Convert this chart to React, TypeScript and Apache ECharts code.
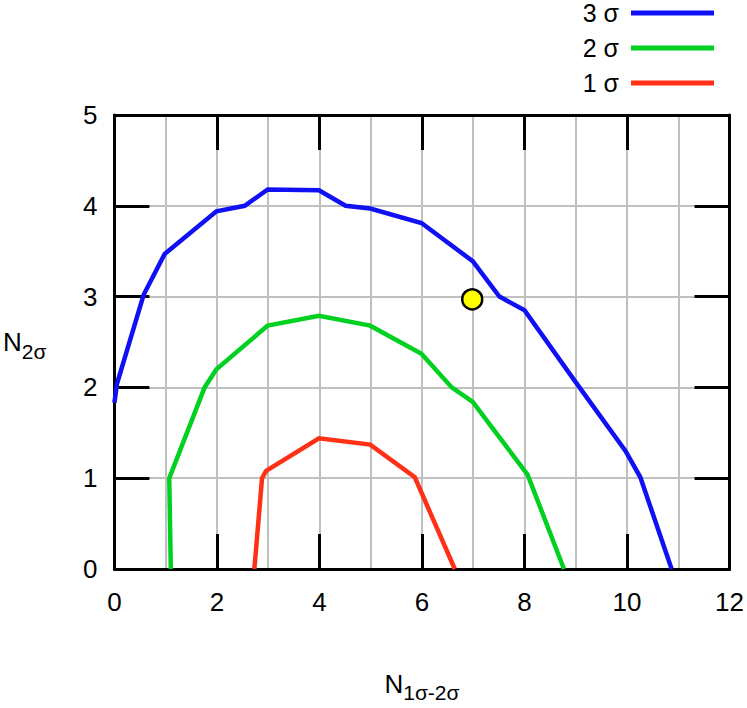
import React, { useEffect, useRef } from "react";
import * as echarts from "echarts";

const FONT = "'Liberation Sans', Arial, sans-serif";

// 3 sigma contour (blue)
const sigma3X = [0, 0.05, 0.57, 0.98, 1.99, 2.54, 2.99, 3.99, 4.51, 4.99, 5.99, 6.99, 7.51, 8.0, 8.97, 9.97, 10.26, 10.87];
const sigma3Y = [1.83, 2.04, 3.02, 3.47, 3.94, 4.0, 4.18, 4.17, 4.0, 3.97, 3.81, 3.39, 3.0, 2.85, 2.08, 1.3, 1.01, 0];
// 2 sigma contour (green)
const sigma2X = [1.1, 1.07, 1.76, 1.99, 2.99, 3.99, 4.99, 5.99, 6.58, 6.99, 8.06, 8.77];
const sigma2Y = [0, 1.0, 2.0, 2.2, 2.68, 2.79, 2.68, 2.37, 2.0, 1.84, 1.04, 0];
// 1 sigma contour (red)
const sigma1X = [2.73, 2.88, 2.96, 3.99, 4.99, 5.86, 6.64];
const sigma1Y = [0, 1.0, 1.08, 1.44, 1.37, 1.01, 0];
// observed point
const pointX = [6.98];
const pointY = [2.97];

const seriesNames = ["3 σ", "2 σ", "1 σ"];
const seriesColors = ["#1010f5", "#00d020", "#ff3015"];

const zip = (xs: number[], ys: number[]) => xs.map((x, i) => [x, ys[i]]);

export default function App() {
  const ref = useRef<HTMLDivElement>(null);
  useEffect(() => {
    if (!ref.current) return;
    const chart = echarts.init(ref.current, undefined, { renderer: "svg" });
    const axisLine = { show: true, onZero: false, lineStyle: { color: "#000", width: 3 } };
    const tick = { show: true, inside: true, length: 35, lineStyle: { color: "#000", width: 3 } };
    const grayLine = { show: true, lineStyle: { color: "#c0c0c0", width: 2 } };
    const nameRich = {
      n: { fontSize: 26, color: "#000", fontFamily: FONT },
      s: { fontSize: 21, color: "#000", fontFamily: FONT, padding: [18, 0, 0, 0] },
    };
    const lines = [zip(sigma3X, sigma3Y), zip(sigma2X, sigma2Y), zip(sigma1X, sigma1Y)];
    chart.setOption({
      animation: false,
      grid: { left: 113, right: 16, top: 115, bottom: 134, containLabel: false },
      legend: {
        data: seriesNames,
        orient: "vertical",
        right: 33,
        top: 0,
        padding: 0,
        align: "right",
        icon: "rect",
        itemWidth: 83,
        itemHeight: 5,
        itemGap: 9,
        textStyle: { fontSize: 25, color: "#000", fontFamily: FONT, lineHeight: 26, padding: [0, 7, 0, 0] },
      },
      xAxis: [
        {
          type: "value", min: 0, max: 12, interval: 2, position: "bottom",
          axisLine, axisTick: tick,
          axisLabel: { fontSize: 26, color: "#000", fontFamily: FONT, margin: 20 },
          splitLine: { show: false },
          name: "{n|N}{s|1σ-2σ}",
          nameLocation: "middle",
          nameGap: 95,
          nameTextStyle: { color: "#000", fontFamily: FONT, fontSize: 26, rich: nameRich },
        },
        {
          type: "value", min: 0, max: 12, interval: 2, position: "top",
          axisLine, axisTick: tick, axisLabel: { show: false }, splitLine: { show: false },
        },
        {
          type: "value", min: 0, max: 12, interval: 1, position: "bottom",
          axisLine: { show: false }, axisTick: { show: false }, axisLabel: { show: false },
          splitLine: grayLine,
        },
      ],
      yAxis: [
        {
          type: "value", min: 0, max: 5, interval: 1, position: "left",
          axisLine, axisTick: tick,
          axisLabel: { fontSize: 26, color: "#000", fontFamily: FONT, margin: 17 },
          splitLine: grayLine,
          name: "{n|N}{s|2σ}",
          nameLocation: "middle",
          nameRotate: 0,
          nameGap: 68,
          nameTextStyle: { color: "#000", fontFamily: FONT, fontSize: 26, rich: nameRich },
        },
        {
          type: "value", min: 0, max: 5, interval: 1, position: "right",
          axisLine, axisTick: tick, axisLabel: { show: false }, splitLine: { show: false },
        },
      ],
      series: [
        ...lines.map((d, i) => ({
          name: seriesNames[i],
          type: "line",
          data: d,
          symbol: "none",
          showSymbol: false,
          clip: false,
          color: seriesColors[i],
          lineStyle: { color: seriesColors[i], width: 4.5, join: "miter" },
          z: 3,
        })),
        {
          name: "point",
          type: "scatter",
          data: zip(pointX, pointY),
          symbol: "circle",
          symbolSize: 20,
          itemStyle: { color: "#ffff00", borderColor: "#000", borderWidth: 2.5, opacity: 1 },
          z: 4,
        },
      ],
    });
    return () => chart.dispose();
  }, []);
  return (
    <div
      ref={ref}
      style={{ position: "fixed", left: 0, top: 0, width: 747, height: 708, background: "#fff" }}
    />
  );
}
